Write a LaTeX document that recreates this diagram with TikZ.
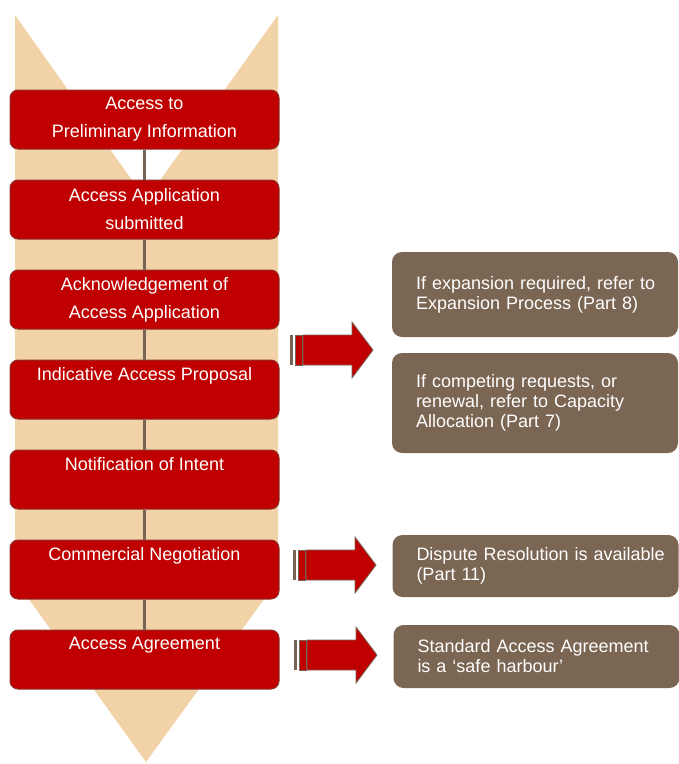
\documentclass[tikz,border=0pt]{standalone}
\usepackage{fontspec}
\setmainfont{Liberation Sans}
\usetikzlibrary{positioning}
\definecolor{chevrontan}{RGB}{242,211,168}
\definecolor{stepred}{RGB}{192,0,0}
\definecolor{stepedge}{RGB}{140,50,45}
\definecolor{notebrown}{RGB}{123,101,83}
\definecolor{linkbrown}{RGB}{120,100,85}

\tikzset{
    stripearrow/.pic={
        \fill[linkbrown] (0,-15) rectangle (3,15);
        \filldraw[fill=stepred, draw=linkbrown, line width=0.8pt] (5,-15) rectangle (12,15);
        \filldraw[fill=stepred, draw=linkbrown, line width=0.8pt] (13,-15) -- (62,-15) -- (62,-28) -- (83,0) -- (62,28) -- (62,15) -- (13,15) -- cycle;
    }
}

\begin{document}
\begin{tikzpicture}[x=1pt, y=-1pt, node distance=30pt,
    stepbox/.style={rectangle, rounded corners=8pt, fill=stepred, draw=stepedge, line width=1pt,
        minimum width=269pt, minimum height=59pt, inner sep=0pt, text=white, align=center,
        font=\fontsize{18}{28}\selectfont},
    notebox/.style={rectangle, rounded corners=10pt, fill=notebrown, text=white, align=left,
        text width=270pt, inner xsep=8pt, inner ysep=0pt, font=\fontsize{18}{20}\selectfont,
        execute at begin node={\leftskip=16pt}},
    link/.style={linkbrown, line width=3pt}]
    \useasboundingbox (0,0) rectangle (679,764);

    % Tan chevron behind the steps
    \fill[chevrontan] (15,15) -- (146,200) -- (278,15) -- (278,580) -- (146,762) -- (15,580) -- cycle;

    % Steps
    \node[stepbox] (info) at (144.5,119.5) {Access to\\Preliminary Information};
    \node[stepbox, below=of info] (appl) {Access Application\\submitted};
    \node[stepbox, below=of appl] (ack) {Acknowledgement of\\Access Application};
    \node[stepbox, below=of ack] (proposal) {Indicative Access Proposal\\\vphantom{y}};
    \node[stepbox, below=of proposal] (intent) {Notification of Intent\\\vphantom{y}};
    \node[stepbox, below=of intent] (negot) {Commercial Negotiation\\\vphantom{y}};
    \node[stepbox, below=of negot] (agree) {Access Agreement\\\vphantom{y}};

    % Links between steps
    \foreach \a/\b in {info/appl, appl/ack, ack/proposal, proposal/intent, intent/negot, negot/agree}
        \draw[link] (\a) -- (\b);

    % Notes
    \node[notebox, minimum height=85pt] (expand) at (535,294.5) {If expansion required, refer to\\Expansion Process (Part 8)};
    \node[notebox, minimum height=100pt] (compete) at (535,403) {If competing requests, or\\renewal, refer to Capacity\\Allocation (Part 7)};
    \node[notebox, minimum height=62pt] (dispute) at (535.5,566) {Dispute Resolution is available\\(Part 11)};
    \node[notebox, minimum height=63pt] (harbour) at (536.5,656.5) {Standard Access Agreement\\is a ‘safe harbour’};

    % Striped arrows
    \pic at (290,350) {stripearrow};
    \pic at (293,565) {stripearrow};
    \pic at (294,655) {stripearrow};
\end{tikzpicture}
\end{document}
